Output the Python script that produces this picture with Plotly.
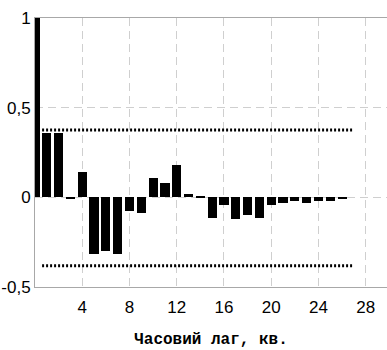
import plotly.graph_objects as go

lags = list(range(0, 27))
acf = [1.0, 0.36, 0.36, -0.01, 0.14, -0.318, -0.298, -0.318, -0.078, -0.09,
       0.109, 0.081, 0.18, 0.017, 0.006, -0.117, -0.045, -0.122, -0.10, -0.113,
       -0.044, -0.03, -0.02, -0.03, -0.02, -0.02, -0.012]
conf_x = [0.6, 27.0]
conf_upper = [0.376, 0.376]
conf_lower = [-0.382, -0.382]
x_ticks = [4, 8, 12, 16, 20, 24, 28]
y_ticks = [-0.5, 0, 0.5, 1]
y_ticktext = ["-0,5", "0", "0,5", "1"]
x_title = "Часовий лаг, кв."

tick_font = dict(family="Liberation Sans, Arial, sans-serif", size=17, color="black")

fig = go.Figure()
fig.add_trace(go.Bar(x=lags, y=acf, width=0.78, marker=dict(color="black", line=dict(width=0)),
                     showlegend=False, hoverinfo="skip"))
for yy in (conf_upper, conf_lower):
    fig.add_trace(go.Scatter(x=conf_x, y=yy, mode="lines",
                             line=dict(color="black", width=3, dash="2px,2px"),
                             showlegend=False, hoverinfo="skip"))

fig.update_layout(
    width=387, height=350,
    margin=dict(l=35, r=0, t=17.5, b=62.5, autoexpand=False),
    paper_bgcolor="white", plot_bgcolor="white",
    bargap=0,
    xaxis=dict(range=[0, 29.8], tickvals=x_ticks, tickfont=tick_font, automargin=False,
               ticklabelstandoff=5,
               showgrid=True, gridcolor="#cfcfcf", griddash="8px,5px", gridwidth=1,
               zeroline=False, showline=True, linecolor="#a8a8a8", linewidth=1, mirror=True,
               ticks="", title=dict(text=x_title, standoff=16,
                                    font=dict(family="Liberation Mono, Courier New, monospace",
                                              size=16, color="black", weight="bold"))),
    yaxis=dict(range=[-0.5, 1], tickvals=y_ticks, ticktext=y_ticktext, tickfont=tick_font,
               automargin=False,
               showgrid=True, gridcolor="#cfcfcf", griddash="8px,5px", gridwidth=1,
               zeroline=False, showline=True, linecolor="#a8a8a8", linewidth=1, mirror=True,
               ticks=""),
)

fig.write_html("out.html", config={"displayModeBar": False},
               post_script="document.body.style.margin='0';document.body.style.overflow='hidden';")
